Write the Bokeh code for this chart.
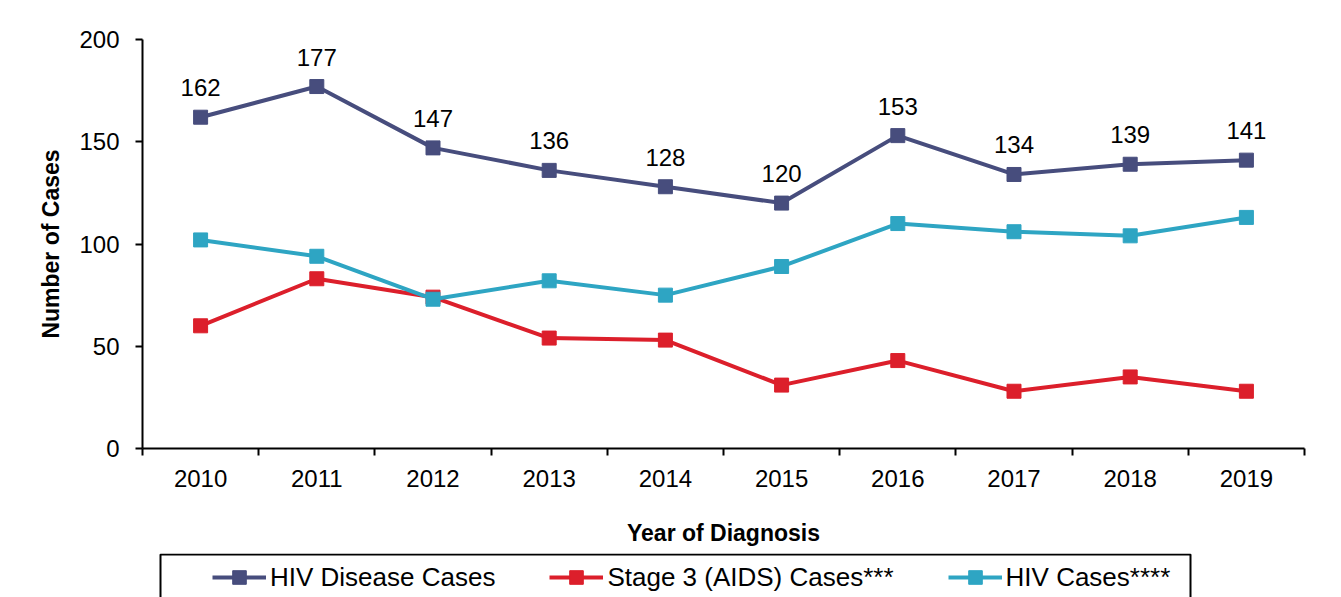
from bokeh.plotting import figure
from bokeh.layouts import column
from bokeh.models import (Range1d, FixedTicker, Legend, LegendItem, ColumnDataSource,
                          LabelSet, BoxAnnotation)
from bokeh.core.properties import value
from bokeh.embed import file_html
from bokeh.resources import INLINE

years = [2010, 2011, 2012, 2013, 2014, 2015, 2016, 2017, 2018, 2019]
hiv_disease = [162, 177, 147, 136, 128, 120, 153, 134, 139, 141]
stage3 = [60, 83, 74, 54, 53, 31, 43, 28, 35, 28]
hiv_cases = [102, 94, 73, 82, 75, 89, 110, 106, 104, 113]
y_ticks = [0, 50, 100, 150, 200]
series_names = ["HIV Disease Cases", "Stage 3 (AIDS) Cases***", "HIV Cases****"]

FONT = "Liberation Sans"
NAVY = "#474D7D"
RED = "#DC1F2B"
CYAN = "#2EA5C3"
colors = [NAVY, RED, CYAN]

W = 1333
FL, FW = 142, 1162
p = figure(frame_width=FW, frame_height=409,
           min_border_left=FL, min_border_right=W - FL - FW, min_border_top=39, min_border_bottom=105,
           x_range=Range1d(years[0] - 0.5, years[-1] + 0.5), y_range=Range1d(0, 200),
           output_backend="svg", toolbar_location=None)
p.outline_line_color = None
p.xgrid.visible = False
p.ygrid.visible = False

# axes
p.xaxis.ticker = FixedTicker(ticks=years, minor_ticks=[y - 0.5 for y in years] + [years[-1] + 0.5])
p.xaxis.major_tick_line_color = None
p.xaxis.minor_tick_in = 0
p.xaxis.minor_tick_out = 7
p.xaxis.minor_tick_line_color = "black"
p.xaxis.minor_tick_line_width = 2
p.yaxis.ticker = FixedTicker(ticks=y_ticks)
p.yaxis.major_tick_in = 0
p.yaxis.major_tick_out = 7
p.yaxis.minor_tick_line_color = None
for ax in (p.xaxis, p.yaxis):
    ax.axis_line_color = "black"
    ax.axis_line_width = 2
    ax.major_tick_line_width = 2
    ax.major_label_text_font = FONT
    ax.major_label_text_font_size = "24px"
    ax.major_label_text_color = "black"
    ax.axis_label_text_font = FONT
    ax.axis_label_text_font_size = "23px"
    ax.axis_label_text_font_style = "bold"
    ax.axis_label_text_color = "black"
p.xaxis.major_label_standoff = 14
p.yaxis.major_label_standoff = 16
p.xaxis.axis_label = "Year of Diagnosis"
p.yaxis.axis_label = "Number of Cases"
p.xaxis.axis_label_standoff = 30
p.yaxis.axis_label_standoff = 12

all_series = [hiv_disease, stage3, hiv_cases]
for vals, col in zip(all_series, colors):
    src = ColumnDataSource(dict(x=years, y=vals))
    p.line("x", "y", source=src, line_color=col, line_width=4)
    p.scatter("x", "y", source=src, marker="square", size=14, fill_color=col, line_color=col)

src_lab = ColumnDataSource(dict(x=years, y=hiv_disease, t=[str(v) for v in hiv_disease]))
labels = LabelSet(x="x", y="y", text="t", source=src_lab, text_align="center",
                  text_baseline="alphabetic", y_offset=21, text_font=value(FONT),
                  text_font_size=value("24px"), text_color="black")
p.add_layout(labels)

# legend strip (separate small figure under the chart; its frame aligns with the chart's)
LH = 44
q = figure(width=W, height=LH, min_border_left=FL, min_border_right=W - FL - FW,
           min_border_top=0, min_border_bottom=0,
           x_range=Range1d(FL, FL + FW), y_range=Range1d(0, LH),
           output_backend="svg", toolbar_location=None,
           x_axis_location=None, y_axis_location=None)
q.outline_line_color = None
q.xgrid.visible = False
q.ygrid.visible = False
q.add_layout(BoxAnnotation(left=160, right=1190, top=LH - 1, bottom=-20,
                           fill_alpha=0, line_color="black", line_alpha=1, line_width=2))
items = []
for name, vals, col in zip(series_names, all_series, colors):
    # legend-only renderers: the series sit outside this strip's ranges, so only the key shows
    src = ColumnDataSource(dict(x=years, y=vals))
    l = q.line("x", "y", source=src, line_color=col, line_width=4)
    s = q.scatter("x", "y", source=src, marker="square", size=14, fill_color=col, line_color=col)
    items.append(LegendItem(label=name, renderers=[l, s]))
legend = Legend(items=items, orientation="horizontal", location=(206 - FL, -3),
                glyph_width=54, glyph_height=34, label_standoff=4, spacing=54,
                padding=6, margin=0,
                label_text_font=FONT, label_text_font_size="26px", label_text_color="black",
                border_line_alpha=0, background_fill_alpha=0)
q.add_layout(legend, "center")

layout = column(p, q, spacing=0)
open("out.html", "w").write(file_html(layout, INLINE))
